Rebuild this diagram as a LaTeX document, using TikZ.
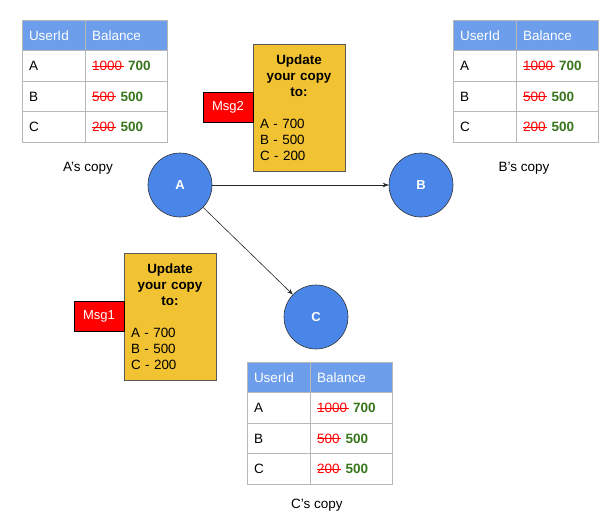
\documentclass[tikz,border=0pt]{standalone}
\usepackage{fontspec}
\setmainfont{Liberation Sans}
\usetikzlibrary{arrows.meta}
\definecolor{hdr}{HTML}{6D9EEB}
\definecolor{circfill}{HTML}{4A86E8}
\definecolor{notefill}{HTML}{F1C232}
\definecolor{oldred}{HTML}{FF0000}
\definecolor{newgreen}{HTML}{38761D}
\definecolor{gridline}{HTML}{B7B7B7}
\newsavebox\strkbox
\newcommand\strk[1]{\sbox\strkbox{#1}\rlap{\usebox\strkbox}\rule[4pt]{\dimexpr\wd\strkbox+1.5pt\relax}{0.8pt}}
\newcommand\oldnew[2]{\textcolor{oldred}{\strk{#1}} \textcolor{newgreen}{\bfseries #2}}
\newcommand\drawtable[3]{%
  \node[hcell,colone] (#1h1) at (#2,#3) {UserId};
  \node[hcell,coltwo] (#1h2) at (#1h1.north east) {Balance};
  \node[bcell,colone] (#1a1) at (#1h1.south west) {A};
  \node[bcell,coltwo] (#1a2) at (#1a1.north east) {\oldnew{1000}{700}};
  \node[bcell,colone] (#1b1) at (#1a1.south west) {B};
  \node[bcell,coltwo] (#1b2) at (#1b1.north east) {\oldnew{500}{500}};
  \node[bcell,colone] (#1c1) at (#1b1.south west) {C};
  \node[bcell,coltwo] (#1c2) at (#1c1.north east) {\oldnew{200}{500}};
}
\begin{document}
\begin{tikzpicture}[x=1pt,y=-1pt,
  every node/.style={font=\fontsize{13}{16}\selectfont},
  cellbase/.style={draw=gridline, line width=0.8pt, anchor=north west,
    inner xsep=7pt, inner ysep=0pt, outer sep=0pt, minimum height=30.5pt,
    align=left, text height=9.8pt, text depth=0pt,
    font=\fontsize{13.5}{16}\selectfont},
  hcell/.style={cellbase, fill=hdr, text=white},
  bcell/.style={cellbase, fill=white, text=black},
  colone/.style={text width=49pt},
  coltwo/.style={text width=68pt},
  usernode/.style={circle, fill=circfill, draw=black!80, line width=0.6pt,
    minimum size=64pt, inner sep=0pt, text=white,
    font=\fontsize{13}{16}\selectfont\bfseries},
  arr/.style={-{Stealth[length=6pt,width=4.5pt]}, line width=0.6pt, draw=black!85},
  notebox/.style={anchor=north west, fill=notefill, draw=black!65, line width=0.6pt,
    text width=78pt, inner xsep=7pt, inner ysep=0pt, minimum height=127pt,
    align=left, outer sep=0pt, font=\fontsize{13.4}{16}\selectfont},
  msgbox/.style={anchor=east, fill=red, draw=black, line width=1pt,
    minimum width=50pt, minimum height=30pt, inner sep=0pt, text=white, outer sep=0pt},
  caption/.style={text=black, font=\fontsize{13.5}{16}\selectfont}
]
\useasboundingbox[fill=white] (0,0) rectangle (611,519);

\drawtable{ta}{22}{20}
\drawtable{tb}{453}{20}
\drawtable{tc}{247}{362}

\node[caption] (capA) at (88,168) {A's copy};
\node[caption] (capB) at (524,168) {B's copy};
\node[caption] (capC) at (317,505) {C's copy};

\node[usernode] (A) at (180,185) {A};
\node[usernode] (B) at (421,185) {B};
\node[usernode] (C) at (316,317) {C};

\draw[arr] (A) -- (B);
\draw[arr] (A) -- (C);

\node[notebox] (N2) at (253,44) {{\bfseries\centering Update\\your copy\\to:\par}\vspace{16pt}A - 700\\B - 500\\C - 200};
\node[msgbox] (M2) at (N2.west) {Msg2};

\node[notebox] (N1) at (124,253) {{\bfseries\centering Update\\your copy\\to:\par}\vspace{16pt}A - 700\\B - 500\\C - 200};
\node[msgbox] (M1) at (N1.west) {Msg1};
\end{tikzpicture}
\end{document}
